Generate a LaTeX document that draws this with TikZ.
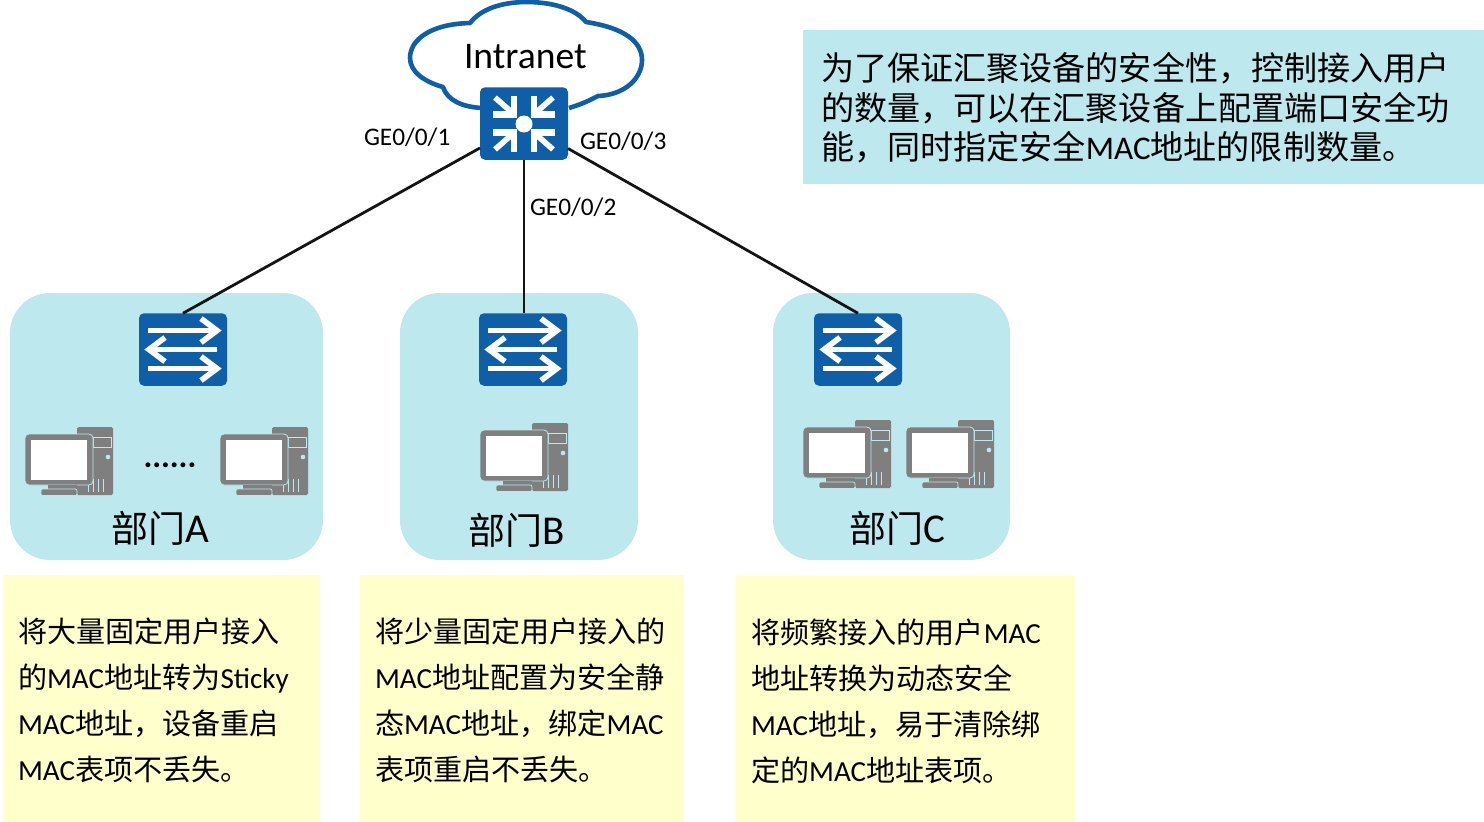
\documentclass[tikz,border=0pt]{standalone}
\usepackage{fontspec}
\setmainfont{Noto Sans CJK SC}
\newfontfamily\latf{Carlito}
\newcommand{\lt}[1]{{\latf #1}}
\newcommand{\ltb}[1]{{\latf\fontsize{41}{41}\selectfont #1}}
\newcommand{\fsz}[1]{\fontsize{#1}{#1}\selectfont}
\definecolor{dept}{HTML}{BDE8EE}
\definecolor{note}{HTML}{FFFFCC}
\definecolor{hw}{HTML}{0F5FA8}
\definecolor{pcg}{HTML}{7F7F7F}
\tikzset{
  x=1pt,y=-1pt,
  line/.style={draw=black!92,line width=2.8pt},
  devbox/.style={fill=hw,rounded corners=5pt,minimum width=88pt,minimum height=72.5pt,inner sep=0pt,outer sep=0pt},
  deptbox/.style={fill=dept,rounded corners=40pt},
  notebox/.style={fill=note},
  wl/.style={draw=white,line width=5.6pt},
  txt/.style={anchor=base west,inner sep=0pt,outer sep=0pt,text=black},
  note29/.style={txt,font=\fsz{29.1}},
  top33/.style={txt,font=\fsz{33.1}},
  dept36/.style={txt,font=\fsz{37}},
  port/.style={txt,font=\latf\fsz{25.3}},
  sw/.pic={
    \foreach \yy in {-19,19}{
      \draw[wl] (-35,\yy)--(32,\yy);
      \draw[wl,miter limit=10] (18,\yy-12)--(34,\yy)--(18,\yy+12);
    }
    \draw[wl] (34,0)--(-32,0);
    \draw[wl,miter limit=10] (-18,-12)--(-34,0)--(-18,12);
  },
  hubmark/.pic={
    \fill[white] (0,0.5) circle (8.5);
    \foreach \sx/\sy in {-1/-1,1/-1,-1/1,1/1}{
      \draw[wl,line width=6.4pt,miter limit=10] (\sx*31,\sy*9)--(\sx*10,\sy*9)--(\sx*10,\sy*28);
      \draw[wl,line width=5.6pt] (\sx*12,\sy*11)--(\sx*29,\sy*26);
    }
  },
  pc/.pic={
    \fill[pcg,rounded corners=1.5pt] (52,0) rectangle (88,68);
    \draw[dept,line width=.9pt] (68,10) rectangle (86.5,20);
    \fill[dept] (83,30) circle (2.3);
    \foreach \xx in {63,68,73,78} \draw[dept,line width=1pt] (\xx,52)--(\xx,65);
    \fill[pcg,rounded corners=4pt,draw=dept,line width=.8pt] (0,7) rectangle (68,58);
    \fill[white] (6,13) rectangle (62,53);
    \fill[pcg] (23,58) rectangle (52,62);
    \fill[pcg,rounded corners=1.5pt,draw=dept,line width=.6pt] (16,62) rectangle (52,68.5);
  }
}
\begin{document}
\begin{tikzpicture}
\useasboundingbox (0,0) rectangle (1484,822);
% panels
\fill[deptbox] (10,293) rectangle (323,560);
\fill[deptbox] (400,293) rectangle (638,560);
\fill[deptbox] (773,293) rectangle (1010,560);
\fill[notebox] (3,575) rectangle (320,822);
\fill[notebox] (360,575) rectangle (684,822);
\fill[notebox] (736,576) rectangle (1075,822);
\fill[dept] (803,30) rectangle (1484,184);
% cloud
\draw[draw=hw,fill=white,line width=4.6pt,line join=round]
  (569,108) .. controls (585,103) and (590,100) .. (598,96)
  .. controls (625,95) and (642,78) .. (642,60)
  .. controls (642,42) and (625,28) .. (586,22)
  .. controls (575,8) and (550,2) .. (527,2)
  .. controls (500,2) and (480,10) .. (470,23)
  .. controls (430,24) and (410,40) .. (410,58)
  .. controls (410,72) and (425,82) .. (443,87)
  .. controls (447,100) and (462,107) .. (482,108);
% devices
\node[devbox] (core) at (524,123.5) {};
\node[devbox] (swa) at (183,349.5) {};
\node[devbox] (swb) at (523,349.5) {};
\node[devbox] (swc) at (858,349.5) {};
\draw[line] (core) -- (swa.north);
\draw[line] (core.south) -- (core.south |- swb.north);
\draw[line] (core) -- (swc.north);
\pic at (core.center) {hubmark};
\pic at (swa.center) {sw};
\pic at (swb.center) {sw};
\pic at (swc.center) {sw};
\pic at (25,427) {pc};
\pic at (220,427) {pc};
\pic at (480,423) {pc};
\pic at (803,420) {pc};
\pic at (906,420) {pc};
% labels
\node[txt,font=\latf\fsz{37.6}] (intranet) at (464,68) {Intranet};
\node[port] (p1) at (364,145) {GE0/0/1};
\node[port] (p2) at (530,215) {GE0/0/2};
\node[port] (p3) at (580,149) {GE0/0/3};
\node[txt,font=\latf\bfseries\fsz{33}] (dots) at (143.5,467) {......};
\node[dept36] (da) at (111,542) {部门\ltb{A}};
\node[dept36] (db) at (468,544) {部门\ltb{B}};
\node[dept36] (dc) at (849,542) {部门\ltb{C}};
\node[top33] (t1) at (821,80) {为了保证汇聚设备的安全性，控制接入用户};
\node[top33] (t2) at (821,120) {的数量，可以在汇聚设备上配置端口安全功};
\node[top33] (t3) at (821,159) {能，同时指定安全\lt{MAC}地址的限制数量。};
\node[note29] (a1) at (18,642.5) {将大量固定用户接入};
\node[note29] (a2) at (18,688.5) {的\lt{MAC}地址转为\lt{Sticky}};
\node[note29] (a3) at (18,734.5) {\lt{MAC}地址，设备重启};
\node[note29] (a4) at (18,780.5) {\lt{MAC}表项不丢失。};
\node[note29] (b1) at (375,642.5) {将少量固定用户接入的};
\node[note29] (b2) at (375,688.5) {\lt{MAC}地址配置为安全静};
\node[note29] (b3) at (375,734.5) {态\lt{MAC}地址，绑定\lt{MAC}};
\node[note29] (b4) at (375,780.5) {表项重启不丢失。};
\node[note29] (c1) at (751,643.5) {将频繁接入的用户\lt{MAC}};
\node[note29] (c2) at (751,689.5) {地址转换为动态安全};
\node[note29] (c3) at (751,735.5) {\lt{MAC}地址，易于清除绑};
\node[note29] (c4) at (751,781.5) {定的\lt{MAC}地址表项。};
\end{tikzpicture}
\end{document}
